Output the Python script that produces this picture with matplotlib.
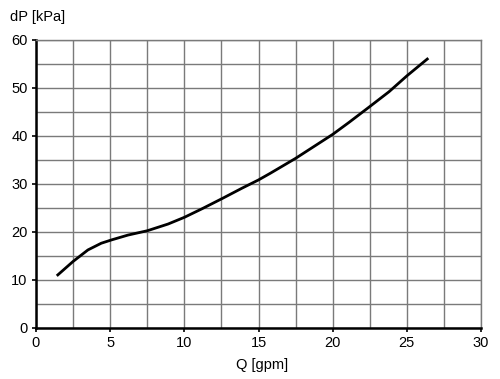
import matplotlib
matplotlib.use("Agg")
import matplotlib.pyplot as plt
from matplotlib.ticker import MultipleLocator

plt.rcParams["font.family"] = ["Liberation Sans", "DejaVu Sans"]

# flow (gpm) vs pressure drop (kPa)
flow = [1.4, 2.5, 3.5, 4.4, 5.1, 6.2, 7.5, 8.9, 10.0, 11.2, 12.6, 13.9,
        15.0, 15.8, 17.5, 18.9, 20.0, 21.1, 22.5, 23.8, 25.0, 26.45]
dp = [10.8, 13.8, 16.2, 17.6, 18.3, 19.3, 20.2, 21.6, 23.0, 24.8, 27.0, 29.1,
      30.8, 32.2, 35.3, 38.1, 40.3, 42.8, 46.1, 49.2, 52.5, 56.2]

x_ticks = [0, 5, 10, 15, 20, 25, 30]
y_ticks = [0, 10, 20, 30, 40, 50, 60]


def main():
    fig = plt.figure(figsize=(5.0, 3.79), dpi=100)
    ax = fig.add_axes([0.072, 0.1356, 0.89, 0.759])

    ax.plot(flow, dp, color="black", linewidth=2.0, solid_capstyle="butt")

    ax.set_xlim(0, 30)
    ax.set_ylim(0, 60)
    ax.set_xticks(x_ticks)
    ax.set_yticks(y_ticks)
    ax.xaxis.set_minor_locator(MultipleLocator(2.5))
    ax.yaxis.set_minor_locator(MultipleLocator(5))
    ax.grid(which="both", color="#7a7a7a", linewidth=1.0)
    ax.set_axisbelow(True)
    ax.tick_params(which="major", direction="out", length=3, width=1.2,
                   labelsize=10.5, colors="black", pad=3)
    ax.tick_params(which="minor", length=0)

    for side in ["top", "right"]:
        ax.spines[side].set_color("#7a7a7a")
        ax.spines[side].set_linewidth(1.0)
    for side in ["left", "bottom"]:
        ax.spines[side].set_color("black")
        ax.spines[side].set_linewidth(1.8)

    fig.text(0.02, 0.955, "dP [kPa]", fontsize=10.5, ha="left", va="center")
    fig.text(0.525, 0.036, "Q [gpm]", fontsize=10.5, ha="center", va="center")

    fig.savefig("out.png", dpi=100)


if __name__ == "__main__":
    main()
